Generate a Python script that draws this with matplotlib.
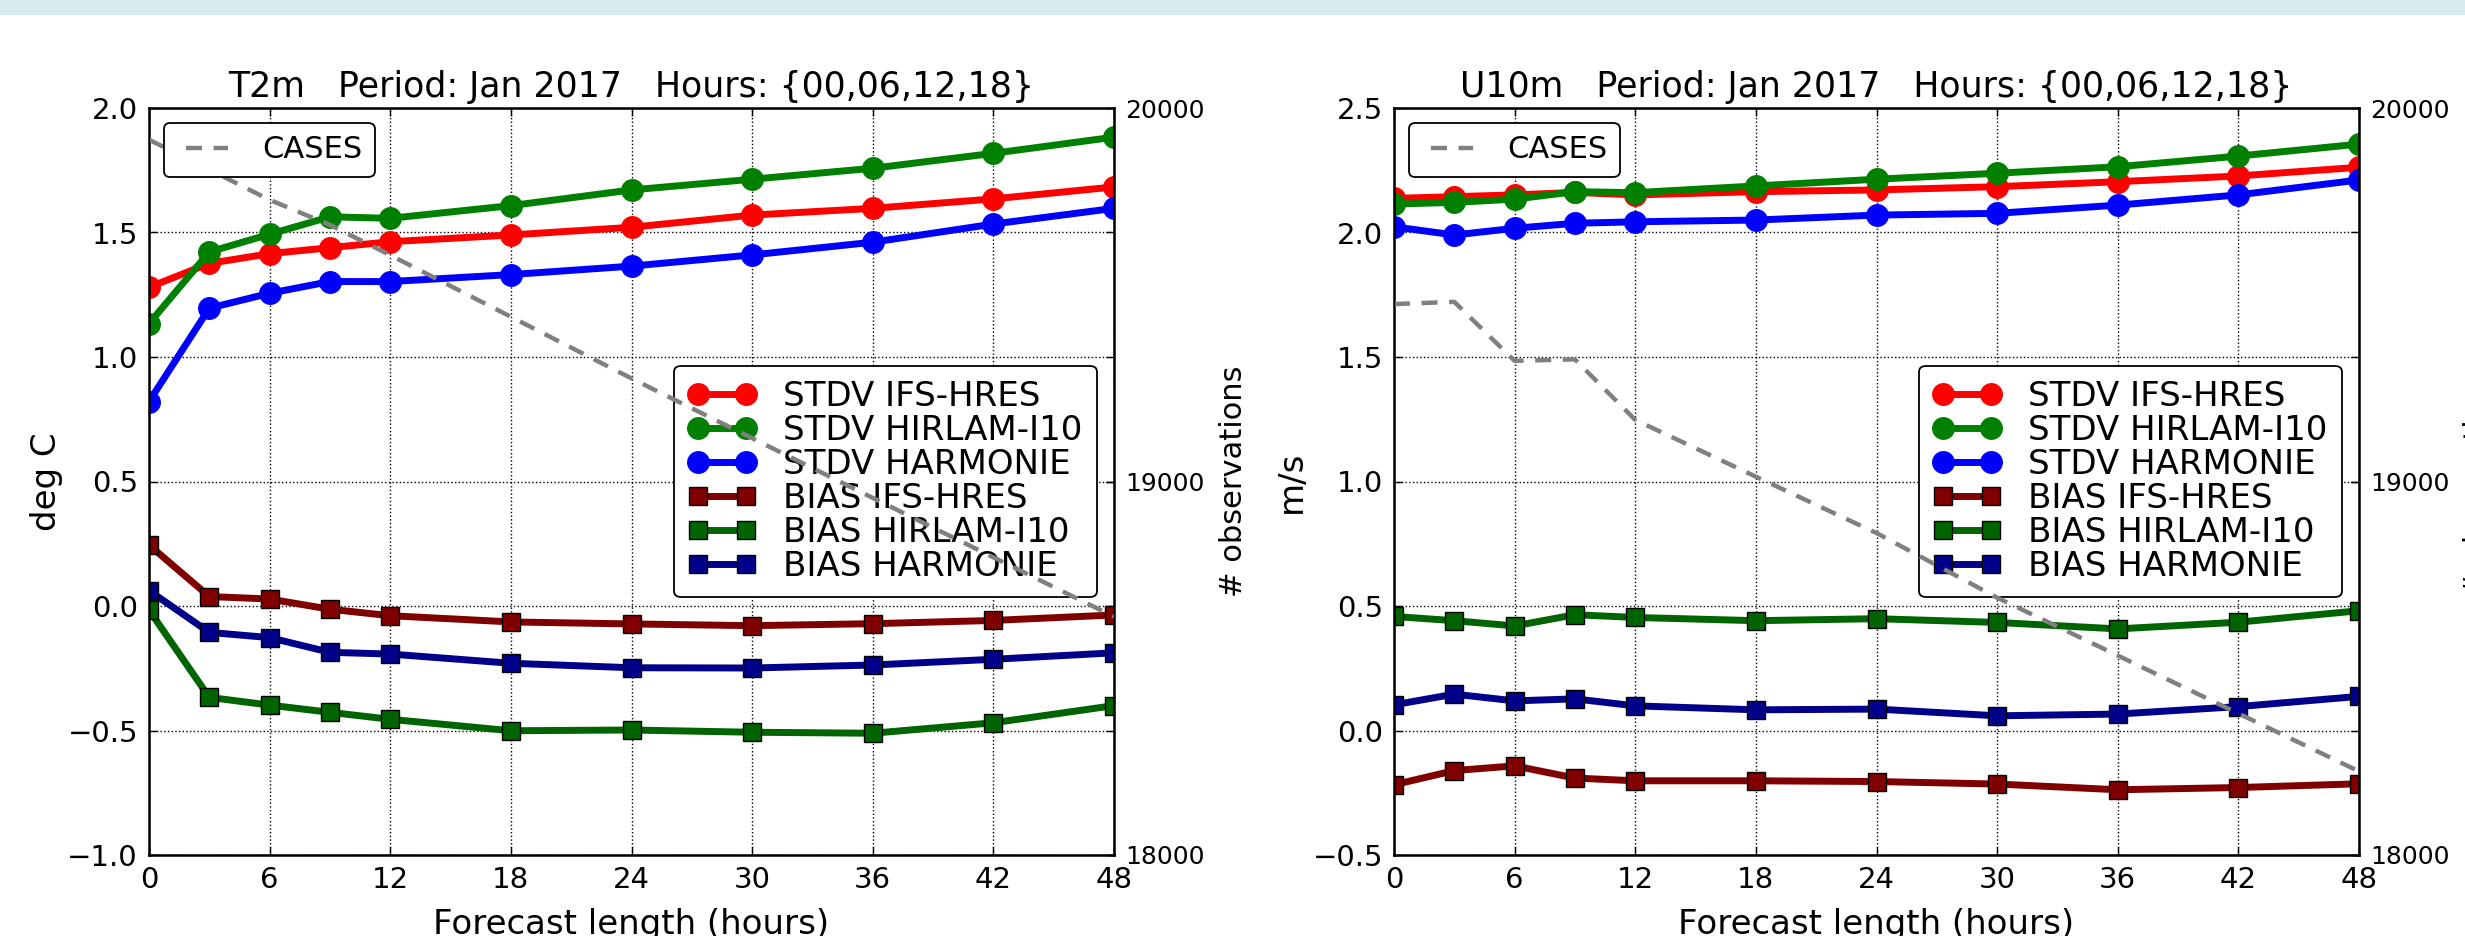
import matplotlib
matplotlib.use("Agg")
import matplotlib.pyplot as plt
from matplotlib.patches import Rectangle

plt.rcParams['font.family'] = ['DejaVu Sans']

hours = [0, 3, 6, 9, 12, 18, 24, 30, 36, 42, 48]
xticks = [0, 6, 12, 18, 24, 30, 36, 42, 48]

# ---- T2m panel ----
t2m_stdv_ifs = [1.280, 1.376, 1.415, 1.439, 1.463, 1.490, 1.521, 1.570, 1.597, 1.635, 1.683]
t2m_stdv_hirlam = [1.134, 1.422, 1.493, 1.563, 1.557, 1.608, 1.671, 1.714, 1.758, 1.818, 1.883]
t2m_stdv_harmonie = [0.821, 1.196, 1.256, 1.303, 1.303, 1.331, 1.365, 1.410, 1.461, 1.534, 1.597]
t2m_bias_ifs = [0.245, 0.038, 0.028, -0.013, -0.039, -0.064, -0.072, -0.079, -0.071, -0.058, -0.036]
t2m_bias_hirlam = [-0.016, -0.367, -0.398, -0.427, -0.455, -0.501, -0.498, -0.507, -0.511, -0.469, -0.400]
t2m_bias_harmonie = [0.062, -0.106, -0.127, -0.186, -0.193, -0.230, -0.248, -0.249, -0.237, -0.214, -0.188]
t2m_cases = [19915, 19835, 19754, 19687, 19606, 19441, 19276, 19116, 18956, 18797, 18638]

# ---- U10m panel ----
u10_stdv_ifs = [2.137, 2.144, 2.151, 2.161, 2.151, 2.164, 2.171, 2.184, 2.204, 2.227, 2.262]
u10_stdv_hirlam = [2.114, 2.121, 2.134, 2.164, 2.160, 2.187, 2.214, 2.238, 2.264, 2.307, 2.355]
u10_stdv_harmonie = [2.023, 1.990, 2.017, 2.037, 2.043, 2.050, 2.070, 2.077, 2.110, 2.151, 2.211]
u10_bias_ifs = [-0.218, -0.161, -0.142, -0.191, -0.202, -0.202, -0.205, -0.215, -0.238, -0.229, -0.214]
u10_bias_hirlam = [0.458, 0.441, 0.420, 0.465, 0.454, 0.441, 0.449, 0.434, 0.408, 0.435, 0.481]
u10_bias_harmonie = [0.103, 0.146, 0.119, 0.127, 0.099, 0.083, 0.086, 0.059, 0.066, 0.096, 0.137]
u10_cases = [19475, 19481, 19323, 19327, 19165, 19013, 18862, 18689, 18534, 18379, 18224]

labels = ['STDV IFS-HRES', 'STDV HIRLAM-I10', 'STDV HARMONIE',
          'BIAS IFS-HRES', 'BIAS HIRLAM-I10', 'BIAS HARMONIE']
colors = ['#ff0000', '#008000', '#0000ff', '#800000', '#006400', '#00008b']

W, H = 2465, 936
fig = plt.figure(figsize=(W / 100, H / 100), dpi=100)
fig.add_artist(Rectangle((0, 1 - 15 / H), 1, 15 / H, transform=fig.transFigure,
                         facecolor='#d8ecee', edgecolor='none', zorder=0))


def panel(left_px, series, cases, ylim, yticks, ylabel, title):
    ax = fig.add_axes([left_px / W, 81 / H, 965 / W, 747 / H])
    ax2 = ax.twinx()
    handles = []
    for i, (vals, lab, col) in enumerate(zip(series, labels, colors)):
        if i < 3:
            h, = ax.plot(hours, vals, color=col, lw=5, marker='o', ms=15.5,
                         mec=col, label=lab)
        else:
            h, = ax.plot(hours, vals, color=col, lw=5, marker='s', ms=13,
                         mec='k', mew=1, label=lab)
        handles.append(h)
    ax.set_xlim(0, 48)
    ax.set_ylim(*ylim)
    ax.set_xticks(xticks)
    ax.set_yticks(yticks)
    ax.grid(True, color='k', linestyle=':', linewidth=1)
    ax.tick_params(direction='in', top=True, right=True, labelright=False,
                   length=6, width=1, labelsize=21, pad=8)
    ax.set_xlabel('Forecast length (hours)', fontsize=24.5, labelpad=10)
    ax.set_ylabel(ylabel, fontsize=24.5, labelpad=3)
    ax.set_title(title, fontsize=25, pad=8)
    for sp in ax.spines.values():
        sp.set_linewidth(1.8)

    c, = ax2.plot(hours, cases, color='#808080', lw=3.2,
                  linestyle=(0, (3.6, 2.6)), label='CASES')
    ax2.set_ylim(18000, 20000)
    ax2.set_yticks([18000, 19000, 20000])
    ax2.tick_params(direction='in', length=6, width=1, labelsize=18, pad=8)
    ax2.set_ylabel('# observations', fontsize=22, labelpad=10)

    lg = ax.legend(handles=handles, loc='center right', fontsize=24.5,
                   numpoints=2, fancybox=True, framealpha=1, borderpad=0.42,
                   labelspacing=0.03, handlelength=2.0, handletextpad=0.8,
                   borderaxespad=0.5)
    lg.get_frame().set_edgecolor('k')
    lg.get_frame().set_linewidth(1.3)
    lg2 = ax2.legend(handles=[c], loc='upper left', fontsize=22,
                     numpoints=2, fancybox=True, framealpha=1, borderpad=0.4,
                     handlelength=2.0, handletextpad=0.8, borderaxespad=0.5)
    lg2.get_frame().set_edgecolor('k')
    lg2.get_frame().set_linewidth(1.3)
    return ax, ax2


panel(149,
      [t2m_stdv_ifs, t2m_stdv_hirlam, t2m_stdv_harmonie,
       t2m_bias_ifs, t2m_bias_hirlam, t2m_bias_harmonie],
      t2m_cases, (-1.0, 2.0), [-1.0, -0.5, 0.0, 0.5, 1.0, 1.5, 2.0], 'deg C',
      'T2m   Period: Jan 2017   Hours: {00,06,12,18}')

panel(1394,
      [u10_stdv_ifs, u10_stdv_hirlam, u10_stdv_harmonie,
       u10_bias_ifs, u10_bias_hirlam, u10_bias_harmonie],
      u10_cases, (-0.5, 2.5), [-0.5, 0.0, 0.5, 1.0, 1.5, 2.0, 2.5], 'm/s',
      'U10m   Period: Jan 2017   Hours: {00,06,12,18}')

fig.savefig('out.png', dpi=100)
